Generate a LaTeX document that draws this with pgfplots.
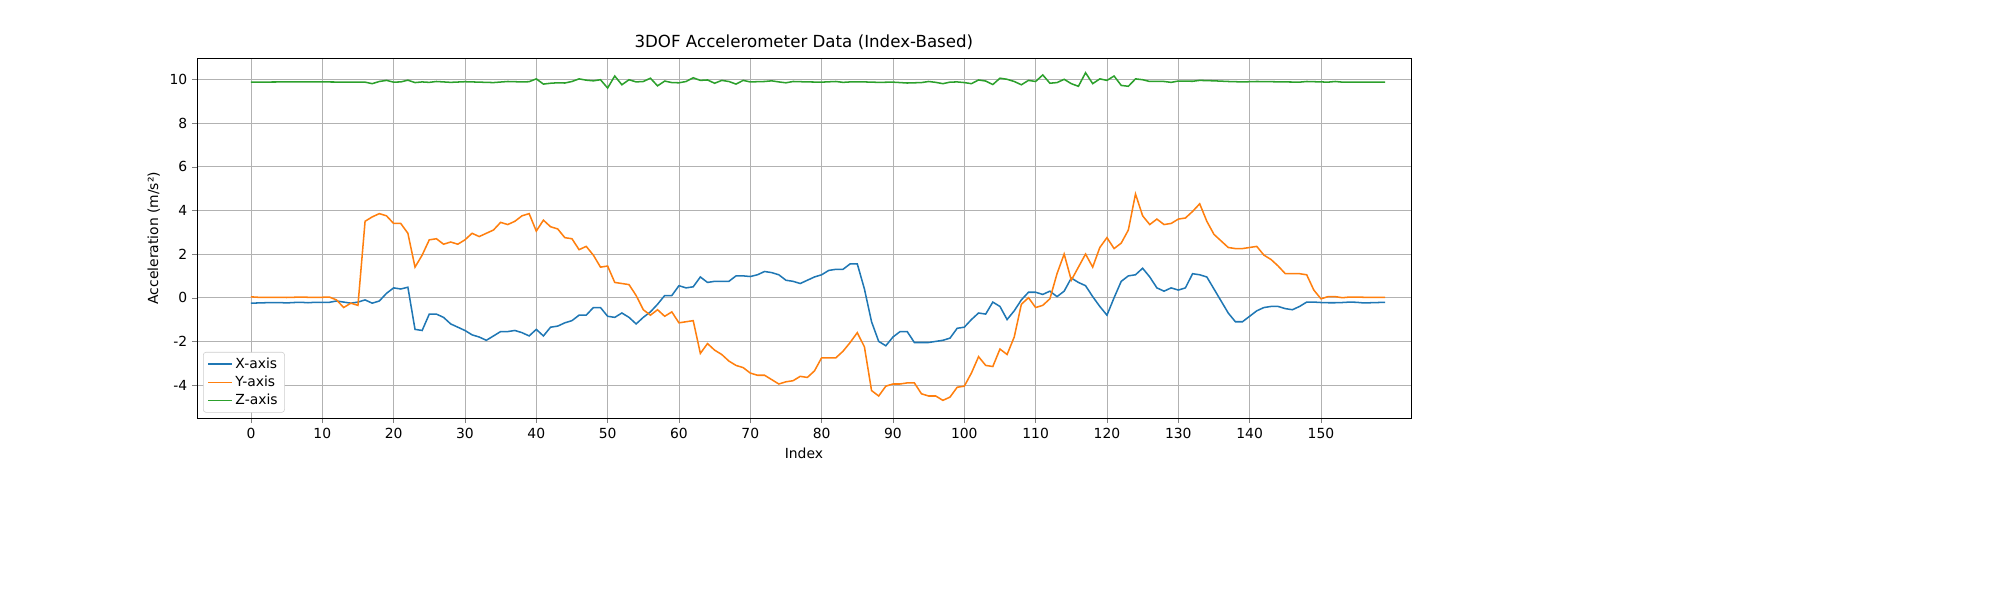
\documentclass[border=0pt]{standalone}
\usepackage{pgfplots}
\pgfplotsset{compat=1.18}
\usepackage{pgfplotstable}
\usepackage{fontspec}
\setmainfont{DejaVu Sans}
\definecolor{tb}{HTML}{1F77B4}
\definecolor{to}{HTML}{FF7F0E}
\definecolor{tg}{HTML}{2CA02C}
\pgfplotstableread{
i x y
0 -0.25 0.04
1 -0.24 0.02
2 -0.23 0.02
3 -0.22 0.02
4 -0.22 0.02
5 -0.24 0.01
6 -0.22 0.02
7 -0.21 0.03
8 -0.23 0.02
9 -0.21 0.02
10 -0.21 0.02
11 -0.21 0.03
12 -0.15 -0.10
13 -0.20 -0.45
14 -0.25 -0.25
15 -0.20 -0.35
16 -0.10 3.50
17 -0.25 3.70
18 -0.15 3.85
19 0.20 3.75
20 0.45 3.40
21 0.40 3.40
22 0.48 2.95
23 -1.45 1.40
24 -1.50 1.95
25 -0.75 2.65
26 -0.75 2.70
27 -0.90 2.45
28 -1.20 2.55
29 -1.35 2.45
30 -1.50 2.65
31 -1.70 2.95
32 -1.80 2.80
33 -1.95 2.95
34 -1.75 3.10
35 -1.55 3.45
36 -1.55 3.35
37 -1.50 3.50
38 -1.60 3.75
39 -1.75 3.85
40 -1.45 3.05
41 -1.75 3.55
42 -1.35 3.25
43 -1.30 3.15
44 -1.15 2.75
45 -1.05 2.70
46 -0.80 2.20
47 -0.80 2.35
48 -0.45 1.95
49 -0.45 1.40
50 -0.85 1.45
51 -0.90 0.70
52 -0.70 0.65
53 -0.90 0.60
54 -1.20 0.10
55 -0.90 -0.55
56 -0.65 -0.80
57 -0.30 -0.55
58 0.10 -0.85
59 0.10 -0.65
60 0.55 -1.15
61 0.45 -1.10
62 0.50 -1.05
63 0.95 -2.55
64 0.70 -2.10
65 0.75 -2.40
66 0.75 -2.60
67 0.75 -2.90
68 1.00 -3.10
69 1.00 -3.20
70 0.97 -3.45
71 1.05 -3.55
72 1.20 -3.55
73 1.15 -3.75
74 1.05 -3.95
75 0.80 -3.85
76 0.75 -3.80
77 0.65 -3.60
78 0.80 -3.65
79 0.95 -3.35
80 1.05 -2.75
81 1.25 -2.75
82 1.30 -2.75
83 1.30 -2.45
84 1.55 -2.05
85 1.55 -1.60
86 0.40 -2.25
87 -1.10 -4.25
88 -2.00 -4.50
89 -2.20 -4.05
90 -1.80 -3.95
91 -1.55 -3.95
92 -1.55 -3.90
93 -2.05 -3.90
94 -2.05 -4.40
95 -2.05 -4.50
96 -2.00 -4.50
97 -1.95 -4.70
98 -1.85 -4.55
99 -1.40 -4.10
100 -1.35 -4.05
101 -1.00 -3.45
102 -0.70 -2.70
103 -0.75 -3.10
104 -0.20 -3.15
105 -0.40 -2.35
106 -1.00 -2.60
107 -0.60 -1.80
108 -0.10 -0.30
109 0.25 0.00
110 0.25 -0.45
111 0.15 -0.35
112 0.30 -0.05
113 0.05 1.10
114 0.30 2.00
115 0.90 0.80
116 0.70 1.40
117 0.55 2.00
118 0.05 1.40
119 -0.40 2.30
120 -0.80 2.75
121 0.00 2.25
122 0.75 2.50
123 1.00 3.10
124 1.05 4.75
125 1.35 3.75
126 0.95 3.35
127 0.45 3.60
128 0.30 3.35
129 0.45 3.40
130 0.35 3.60
131 0.45 3.65
132 1.10 3.95
133 1.05 4.30
134 0.95 3.50
135 0.40 2.90
136 -0.15 2.60
137 -0.70 2.30
138 -1.10 2.25
139 -1.10 2.25
140 -0.85 2.30
141 -0.60 2.35
142 -0.45 1.95
143 -0.40 1.75
144 -0.40 1.45
145 -0.50 1.10
146 -0.55 1.10
147 -0.40 1.10
148 -0.20 1.05
149 -0.20 0.35
150 -0.22 -0.05
151 -0.23 0.05
152 -0.23 0.05
153 -0.22 0.00
154 -0.20 0.03
155 -0.21 0.03
156 -0.24 0.02
157 -0.23 0.02
158 -0.22 0.02
159 -0.21 0.02
}\datatab
\pgfplotstableread{
i z
0 9.87
5 9.88
10 9.88
14 9.87
16 9.87
17 9.80
18 9.90
19 9.95
20 9.87
21 9.88
22 9.96
23 9.85
24 9.88
25 9.86
26 9.90
28 9.86
30 9.89
32 9.87
34 9.85
36 9.90
38 9.88
39 9.89
40 10.02
41 9.78
42 9.82
43 9.84
44 9.83
45 9.90
46 10.02
47 9.96
48 9.93
49 9.98
50 9.60
51 10.15
52 9.75
53 9.98
54 9.88
55 9.90
56 10.05
57 9.70
58 9.92
59 9.85
60 9.84
61 9.90
62 10.07
63 9.95
64 9.97
65 9.82
66 9.95
67 9.90
68 9.78
69 9.95
70 9.88
72 9.90
73 9.93
74 9.88
75 9.84
76 9.90
78 9.88
80 9.87
82 9.90
83 9.86
84 9.88
86 9.88
88 9.86
90 9.87
92 9.83
94 9.85
95 9.90
96 9.86
97 9.80
98 9.87
99 9.88
100 9.85
101 9.80
102 9.97
103 9.92
104 9.76
105 10.05
106 10.00
107 9.90
108 9.75
109 9.95
110 9.90
111 10.20
112 9.82
113 9.85
114 10.00
115 9.80
116 9.68
117 10.30
118 9.80
119 10.02
120 9.95
121 10.15
122 9.72
123 9.68
124 10.02
125 9.98
126 9.90
128 9.90
129 9.86
130 9.92
132 9.91
133 9.95
135 9.93
137 9.90
139 9.88
141 9.90
143 9.89
145 9.88
147 9.87
148 9.90
150 9.88
151 9.87
152 9.90
153 9.87
159 9.87
}\ztab
\begin{document}
\begin{tikzpicture}
\begin{axis}[at={(0,0)},anchor=south west,scale only axis,
width=874pt,height=259pt,
xmin=-7.57,xmax=162.6,ymin=-5.51,ymax=10.96,
xtick={0,10,...,150},ytick={-4,-2,0,2,4,6,8,10},
tick align=outside,tick pos=left,
major tick length=3.5pt,
grid=major,grid style={color=black!30,line width=0.6pt},
tick label style={font=\fontsize{10}{12}\selectfont},
/pgf/number format/assume math mode=true,
title={3DOF Accelerometer Data (Index-Based)},
title style={font=\fontsize{12}{14}\selectfont,yshift=-3pt},
xlabel={Index},ylabel={Acceleration (m/s²)},
label style={font=\fontsize{10}{12}\selectfont},
legend style={font=\fontsize{10}{12}\selectfont,draw=black!20,rounded corners=2pt,at={(0.005,0.015)},anchor=south west},
legend cell align=left,
every axis plot/.append style={line width=1.1pt,no markers},
]
\addplot[tb] table[x=i,y=x]{\datatab};
\addplot[to] table[x=i,y=y]{\datatab};
\addplot[tg] table[x=i,y=z]{\ztab};
\legend{X-axis,Y-axis,Z-axis}
\end{axis}
\pgfresetboundingbox
\path[use as bounding box] (-141.8pt,-131pt) rectangle (1298.2pt,301pt);
\end{tikzpicture}
\end{document}
